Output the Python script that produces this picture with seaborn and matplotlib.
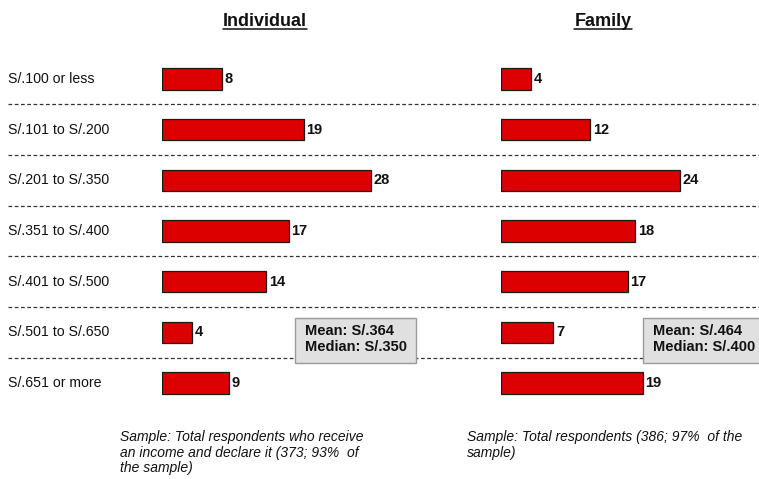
import matplotlib
matplotlib.use("Agg")
import matplotlib.pyplot as plt
import matplotlib.transforms as mtransforms
from matplotlib.patches import Rectangle
from matplotlib.lines import Line2D
import pandas as pd
import seaborn as sns

# Income brackets and percentage of respondents per bracket
categories = ["S/.100 or less", "S/.101 to S/.200", "S/.201 to S/.350",
              "S/.351 to S/.400", "S/.401 to S/.500", "S/.501 to S/.650",
              "S/.651 or more"]
individual = [8, 19, 28, 17, 14, 4, 9]
family = [4, 12, 24, 18, 17, 7, 19]

panel_titles = ["Individual", "Family"]
summary_text = ["Mean: S/.364\nMedian: S/.350", "Mean: S/.464\nMedian: S/.400"]
sample_notes = ["Sample: Total respondents who receive\nan income and declare it (373; 93%  of\nthe sample)",
                "Sample: Total respondents (386; 97%  of the\nsample)"]

sns.set_theme(style="white")
plt.rcParams["font.family"] = ["Liberation Sans", "DejaVu Sans"]

W, H = 759, 479
fig = plt.figure(figsize=(W / 100, H / 100), dpi=100)
fig.patch.set_facecolor("white")

def fx(px):
    return px / W

def fy(py):
    return 1 - py / H

# vertical placement: first row centred at y=79 px, last at y=383 px
row_gap = (383 - 79) / 6
top_px = 79 - row_gap / 2
bot_px = 383 + row_gap / 2
ax_bottom = fy(bot_px)
ax_height = (bot_px - top_px) / H

px_per_unit = 7.45
bar_color = "#dc0000"

df = pd.DataFrame({"bracket": categories, "Individual": individual, "Family": family})

panels = [("Individual", 162, 40), ("Family", 501, 30)]
axes = []
for (col, left_px, xmax) in panels:
    ax = fig.add_axes([fx(left_px), ax_bottom, xmax * px_per_unit / W, ax_height])
    sns.barplot(data=df, x=col, y="bracket", orient="h", ax=ax, width=0.42,
                color=bar_color, saturation=1, edgecolor="#1a1a1a", linewidth=0.9)
    ax.set_xlim(0, xmax)
    ax.set_ylim(len(categories) - 0.5, -0.5)
    ax.bar_label(ax.containers[0], labels=[str(v) for v in df[col]], padding=2,
                 fontsize=10.5, fontweight="bold", color="#111111")
    ax.axis("off")
    axes.append(ax)

# bracket labels on the left margin
lab_tr = mtransforms.blended_transform_factory(fig.transFigure, axes[0].transData)
for i, c in enumerate(categories):
    axes[0].text(fx(8), i, c, transform=lab_tr, ha="left", va="center",
                 fontsize=10.2, color="#111111", clip_on=False)

# dashed separators across the full width
for i in range(len(categories) - 1):
    axes[0].add_line(Line2D([fx(8), 1.0], [i + 0.5, i + 0.5], transform=lab_tr,
                            color="#333333", lw=0.9, linestyle=(0, (3, 2)),
                            clip_on=False, zorder=1))

# panel titles, bold and underlined
title_x = [265, 603]
fig.canvas.draw()
renderer = fig.canvas.get_renderer()
for t, x in zip(panel_titles, title_x):
    txt = fig.text(fx(x), fy(26), t, ha="center", va="baseline", fontsize=13,
                   fontweight="bold", color="#111111")
    bb = txt.get_window_extent(renderer)
    fig.add_artist(Line2D([bb.x0 / W, bb.x1 / W], [fy(28.5), fy(28.5)],
                          transform=fig.transFigure, color="#111111", lw=1.1))

# mean / median summary boxes
box_left = [295, 643]
for s, x in zip(summary_text, box_left):
    fig.add_artist(Rectangle((fx(x), fy(363)), fx(121), (363 - 318) / H,
                             transform=fig.transFigure, facecolor="#e0e0e0",
                             edgecolor="#9a9a9a", lw=1.0, zorder=5))
    fig.text(fx(x + 10), fy(339), s, ha="left", va="center", fontsize=10.5,
             fontweight="bold", color="#111111", linespacing=1.2, zorder=6)

# sample notes
note_x = [120, 467]
for s, x in zip(sample_notes, note_x):
    fig.text(fx(x), fy(430), s, ha="left", va="top", fontsize=10,
             fontstyle="italic", color="#111111", linespacing=1.15)

fig.savefig("out.png", dpi=100, facecolor="white")
